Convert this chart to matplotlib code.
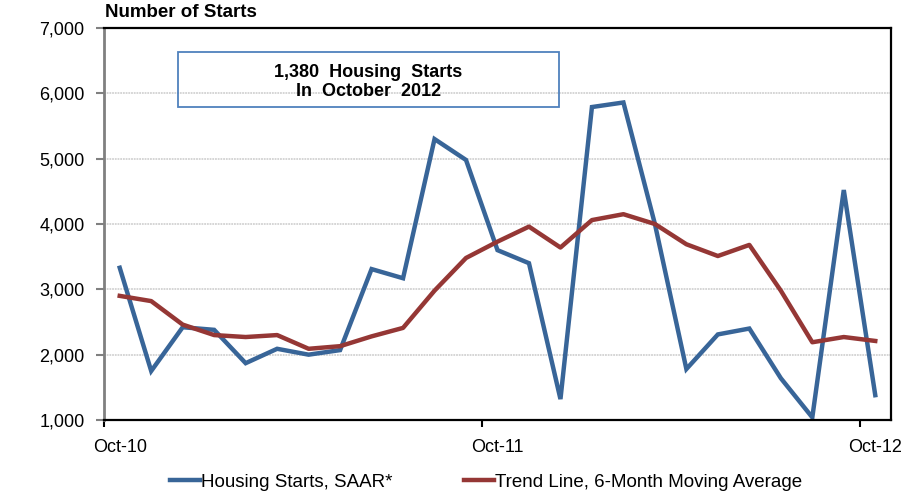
import matplotlib.pyplot as plt
from matplotlib.ticker import FuncFormatter

plt.rcParams['font.family'] = ['Liberation Sans', 'DejaVu Sans']

# monthly data, Oct-10 .. Oct-12
months = ['Oct-10', 'Nov-10', 'Dec-10', 'Jan-11', 'Feb-11', 'Mar-11', 'Apr-11',
          'May-11', 'Jun-11', 'Jul-11', 'Aug-11', 'Sep-11', 'Oct-11', 'Nov-11',
          'Dec-11', 'Jan-12', 'Feb-12', 'Mar-12', 'Apr-12', 'May-12', 'Jun-12',
          'Jul-12', 'Aug-12', 'Sep-12', 'Oct-12']
starts = [3330, 1750, 2420, 2380, 1870, 2090, 2000, 2070, 3310, 3170, 5300, 4980,
          3600, 3400, 1320, 5790, 5860, 4000, 1780, 2310, 2400, 1640, 1040, 4520, 1380]
trend = [2900, 2820, 2460, 2300, 2270, 2300, 2090, 2130, 2280, 2410, 2980, 3480,
         3730, 3960, 3640, 4060, 4150, 4000, 3690, 3510, 3680, 2980, 2190, 2270, 2210]
label_months = ['Oct-10', 'Oct-11', 'Oct-12']

blue = '#386598'
red = '#953735'

fig = plt.figure(figsize=(9.09, 4.99), dpi=100)
ax = fig.add_axes([0.1144, 0.1583, 0.8658, 0.7856])

x = list(range(len(months)))
ax.plot(x, starts, color=blue, lw=3.2, solid_joinstyle='miter', label='Housing Starts, SAAR*')
ax.plot(x, trend, color=red, lw=3.2, solid_joinstyle='round', label='Trend Line, 6-Month Moving Average')

ax.set_xlim(-0.5, len(months) - 0.5)
ax.set_ylim(1000, 7000)
ax.set_yticks(range(1000, 7001, 1000))
ax.yaxis.set_major_formatter(FuncFormatter(lambda v, p: f'{int(v):,}'))
ax.grid(axis='y', color='#d2d2d2', lw=1.3, ls=(0, (1, 0.5)))
ax.set_axisbelow(True)

# ticks between categories, labels on the points
pos = [months.index(m) for m in label_months]
ax.set_xticks([p - 0.5 for p in pos])
ax.set_xticklabels([])
ax.set_xticks(pos, minor=True)
ax.set_xticklabels(label_months, minor=True)
ax.tick_params(axis='x', which='major', length=5, width=1.5, color='black')
ax.tick_params(axis='x', which='minor', length=0, pad=14, labelsize=13)
ax.tick_params(axis='y', length=6, width=1.5, color='#808080', pad=8, labelsize=13)

ax.spines['left'].set_color('#808080')
ax.spines['left'].set_linewidth(2)
for s in ['top', 'right', 'bottom']:
    ax.spines[s].set_color('black')
    ax.spines[s].set_linewidth(1.6)

fig.text(0.1155, 0.958, 'Number of Starts', fontsize=13.5, fontweight='bold', va='bottom')

ax.text(0.336, 0.862, '1,380  Housing  Starts\nIn  October  2012', transform=ax.transAxes,
        ha='center', va='center', fontsize=13, fontweight='bold', linespacing=1.2)
box = plt.Rectangle((178 / 909, 1 - 107 / 499), (559 - 178) / 909, 55 / 499,
                    transform=fig.transFigure, fill=False, ec='#4f81bd', lw=1.3)
fig.add_artist(box)

fig.legend(loc='center', bbox_to_anchor=(0.535, 0.034), ncol=2, frameon=False,
           fontsize=13.5, handlelength=1.6, handletextpad=0.05, columnspacing=3.8)

fig.savefig('out.png', dpi=100)
